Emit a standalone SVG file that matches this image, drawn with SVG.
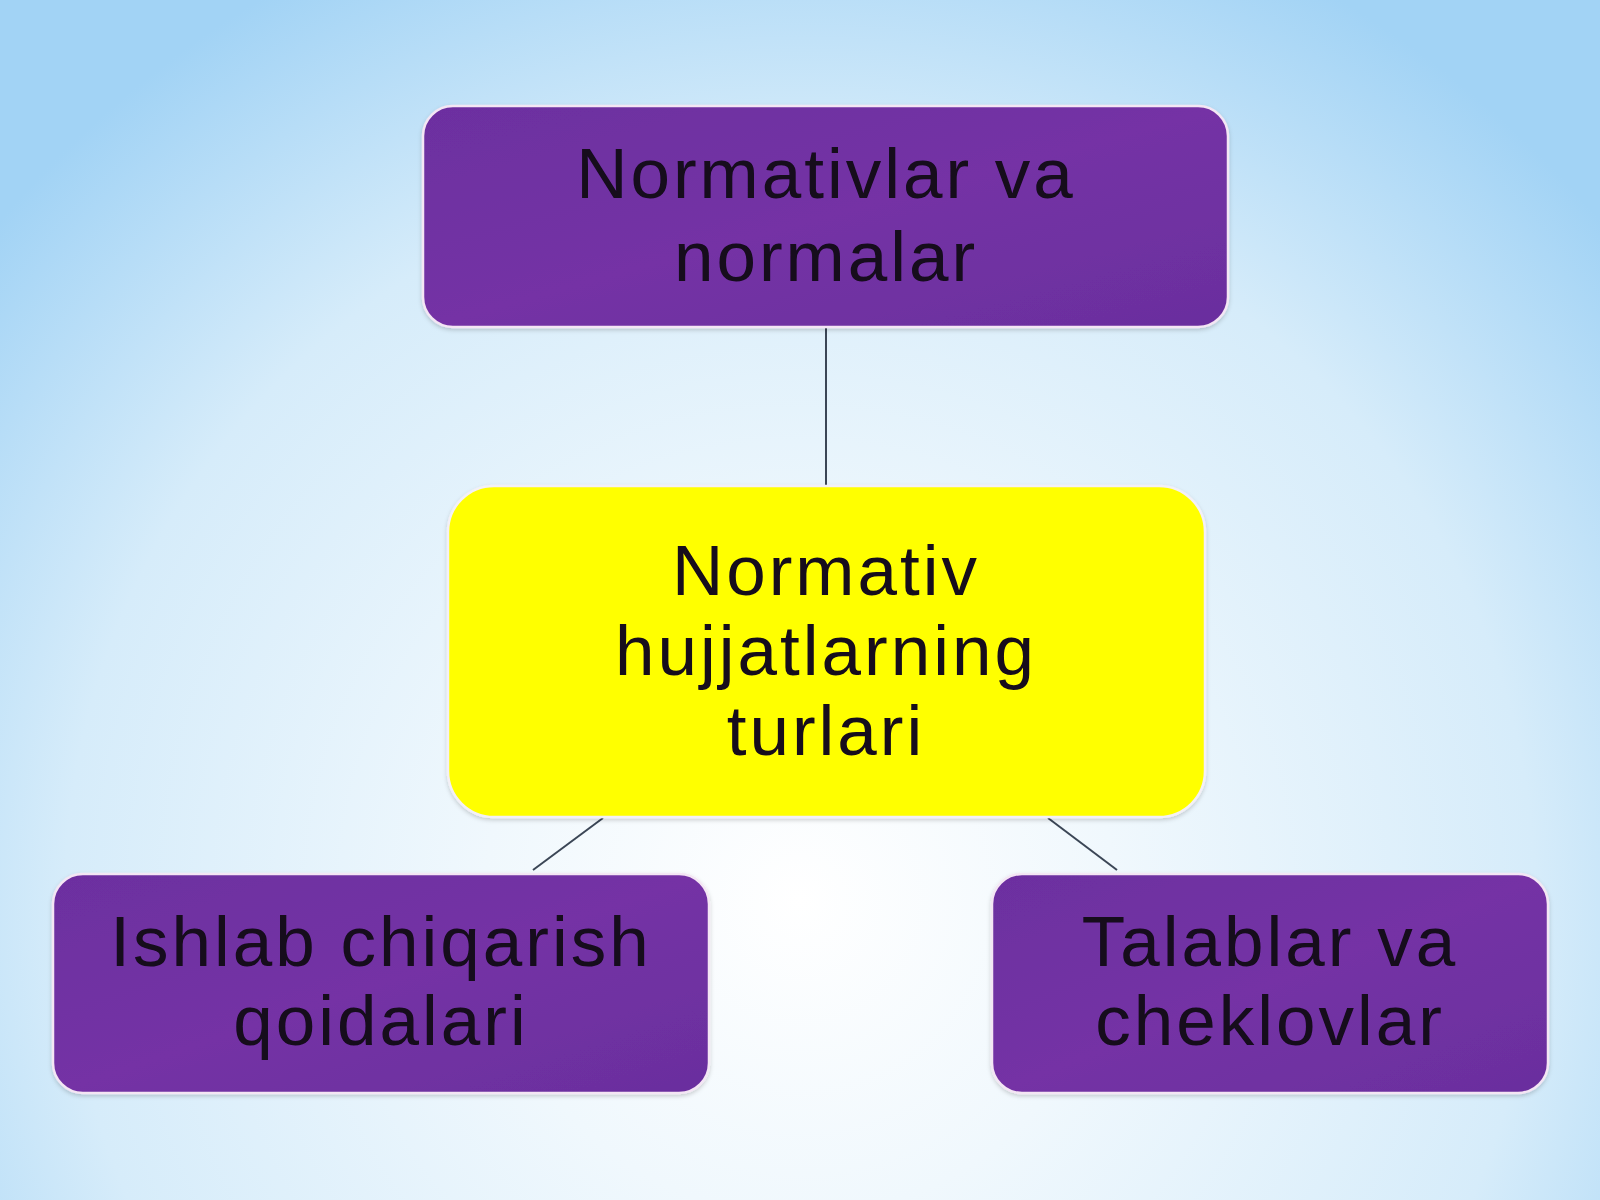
<svg xmlns="http://www.w3.org/2000/svg" width="1600" height="1200" viewBox="0 0 1600 1200">
  <defs>
    <radialGradient id="bg" cx="800" cy="900" r="1050" gradientUnits="userSpaceOnUse">
      <stop offset="0" stop-color="#ffffff"/>
      <stop offset="0.3" stop-color="#f0f8fd"/>
      <stop offset="0.7" stop-color="#d6ecfa"/>
      <stop offset="1" stop-color="#a2d3f5"/>
    </radialGradient>
    <linearGradient id="purple" x1="0" y1="0" x2="1" y2="1">
      <stop offset="0" stop-color="#6c2fa0"/>
      <stop offset="0.5" stop-color="#7433a5"/>
      <stop offset="1" stop-color="#6a2e9e"/>
    </linearGradient>
    <filter id="sh" x="-5%" y="-5%" width="110%" height="115%">
      <feDropShadow dx="0" dy="2" stdDeviation="2" flood-color="#000000" flood-opacity="0.18"/>
    </filter>
  </defs>
  <style>
    .pbox { fill: url(#purple); stroke: #f4e6f4; stroke-width: 2.5; }
    .ybox { fill: #ffff00; stroke: #f4f0f6; stroke-width: 2.5; }
    .lbl { font-family: "Liberation Sans", Arial, sans-serif; font-size: 71px; letter-spacing: 3px; fill: #12081a; text-anchor: middle; }
    .conn { stroke: #3b4656; stroke-width: 2; fill: none; }
  </style>

  <rect x="0" y="0" width="1600" height="1200" fill="url(#bg)"/>

  <g id="connectors">
    <line class="conn" x1="826" y1="327" x2="826" y2="486"/>
    <line class="conn" x1="603" y1="818" x2="533" y2="870"/>
    <line class="conn" x1="1048" y1="818" x2="1117" y2="870"/>
  </g>

  <g id="node-top" filter="url(#sh)">
    <rect class="pbox" x="423" y="106" width="805" height="221" rx="30" ry="30"/>
    <text class="lbl" x="826" y="198">Normativlar va</text>
    <text class="lbl" x="826" y="281">normalar</text>
  </g>

  <g id="node-center" filter="url(#sh)">
    <rect class="ybox" x="448" y="486" width="757" height="331" rx="46" ry="46"/>
    <text class="lbl" x="826" y="595">Normativ</text>
    <text class="lbl" x="826" y="675">hujjatlarning</text>
    <text class="lbl" x="826" y="755">turlari</text>
  </g>

  <g id="node-left" filter="url(#sh)">
    <rect class="pbox" x="53" y="874" width="656" height="219" rx="30" ry="30"/>
    <text class="lbl" x="381" y="966">Ishlab chiqarish</text>
    <text class="lbl" x="381" y="1045">qoidalari</text>
  </g>

  <g id="node-right" filter="url(#sh)">
    <rect class="pbox" x="992" y="874" width="556" height="219" rx="30" ry="30"/>
    <text class="lbl" x="1270" y="966">Talablar va</text>
    <text class="lbl" x="1270" y="1045">cheklovlar</text>
  </g>
</svg>
